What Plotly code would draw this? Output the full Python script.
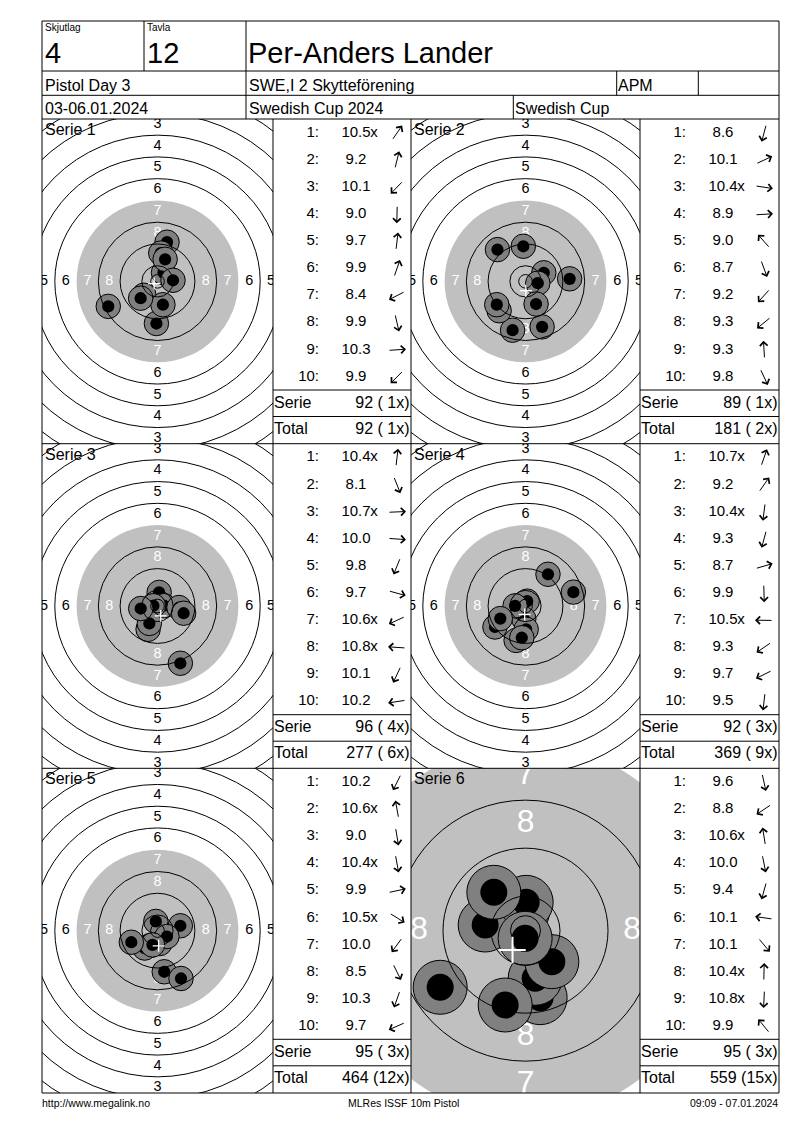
import math
import plotly.graph_objects as go

W, H = 800, 1130
FONT = "Liberation Sans, Arial, sans-serif"

# ---- header / footer texts
squad_no = "4"
target_no = "12"
shooter_name = "Per-Anders Lander"
event_name = "Pistol Day 3"
club_name = "SWE,I 2 Skytteförening"
class_name = "APM"
date_text = "03-06.01.2024"
competition = "Swedish Cup 2024"
cup_name = "Swedish Cup"
footer_left = "http://www.megalink.no"
footer_mid = "MLRes ISSF 10m Pistol"
footer_right = "09:09 - 07.01.2024"

series_names = ["Serie 1", "Serie 2", "Serie 3", "Serie 4", "Serie 5", "Serie 6"]

# ---- shots: decimal score and hit position in mm from centre (y up)
s1_score = [10.5, 9.2, 10.1, 9.0, 9.7, 9.9, 8.4, 9.9, 10.3, 9.9]
s1_x = [2.2, 3.5, -5.0, -0.4, 1.2, 2.8, -18.1, 2.0, 5.7, -6.2]
s1_y = [3.2, 14.4, -5.1, -15.5, 10.4, 8.1, -9.2, -8.6, 0.4, -6.2]

s2_score = [8.6, 10.1, 10.4, 8.9, 9.0, 8.7, 9.2, 9.3, 9.3, 9.8]
s2_x = [-4.75, 6.73, 4.51, 16.23, -10.31, 6.11, -9.69, -10.56, -0.80, 3.89]
s2_y = [-17.96, 3.15, -0.68, 0.93, 11.67, -16.73, -10.80, -8.58, 12.90, -8.33]

s3_score = [10.4, 8.1, 10.7, 10.0, 9.8, 9.7, 10.6, 10.8, 10.1, 10.2]
s3_x = [0.6, 8.4, 2.35, 7.9, -3.46, 9.6, -2.84, -1.5, -3.0, -6.17]
s3_y = [5.0, -21.05, 0.1, -0.56, -8.58, -2.65, -1.30, 0.1, -6.4, -0.93]

s4_score = [10.7, 9.2, 10.4, 9.3, 8.7, 9.9, 10.5, 9.3, 9.7, 9.5]
s4_x = [0.62, 8.27, -0.62, -3.46, 17.6, 0.25, -3.83, -11.23, -9.26, -1.36]
s4_y = [1.79, 11.67, -4.75, -12.65, 5.1, -8.58, 0.06, -7.72, -4.63, -11.67]

s5_score = [10.2, 10.6, 9.0, 10.4, 9.9, 10.5, 10.0, 8.5, 10.3, 9.7]
s5_x = [-2.72, -0.62, 2.47, 0.86, 8.40, 3.46, -4.7, 8.64, -1.85, -9.63]
s5_y = [-5.49, 3.40, -15.12, -4.75, 1.79, -2.16, -6.4, -17.59, -5.25, -4.26]

s6_score = [9.6, 8.8, 10.6, 10.0, 9.4, 10.1, 10.1, 10.4, 10.8, 9.9]
s6_x = [2.44, -14.22, -0.5, 1.61, -3.39, -6.72, 4.39, 0.11, -0.06, -5.28]
s6_y = [-11.17, -9.44, 3.17, -7.94, -12.39, 0.94, -5.17, 4.72, -1.28, 6.39]

scores = [s1_score, s2_score, s3_score, s4_score, s5_score, s6_score]
xs = [s1_x, s2_x, s3_x, s4_x, s5_x, s6_x]
ys = [s1_y, s2_y, s3_y, s4_y, s5_y, s6_y]

# px per mm for each target view (last one is zoomed), radius of grey aiming area
zoom = [2.72, 2.72, 2.72, 2.72, 2.72, 6.0]
grey_r = [29.75, 29.75, 29.75, 29.75, 29.75, 31.2]

# ---- page geometry (px)
ROW_TOP = [119.0, 443.7, 768.3]
ROW_BOT = [443.7, 768.3, 1093.0]
TGT_X = [(42.0, 273.0), (411.0, 640.0)]
TAB_X = [(273.0, 411.0), (640.0, 779.0)]


def ref(a, n):
    return a if n == 1 else f"{a}{n}"


def pxx(v):
    return v / W


def pxy(v):
    return 1 - v / H


fig = go.Figure()
shapes, annos, axes = [], [], {}
run_total, run_x = 0, 0

for i in range(6):
    row, col = divmod(i, 2)
    top, bot = ROW_TOP[row], ROW_BOT[row]
    tx0, tx1 = TGT_X[col]
    s = zoom[i]
    n = i + 1
    xr, yr = ref("x", n), ref("y", n)
    hw = (tx1 - tx0) / 2 / s
    hh = (bot - top) / 2 / s
    axes[ref("xaxis", n)] = dict(domain=[pxx(tx0), pxx(tx1)], range=[-hw, hw], anchor=yr,
                                 visible=False, fixedrange=True)
    axes[ref("yaxis", n)] = dict(domain=[pxy(bot), pxy(top)], range=[-hh, hh], anchor=xr,
                                 visible=False, fixedrange=True)

    # black aiming area shown in grey
    g = grey_r[i]
    shapes.append(dict(type="circle", xref=xr, yref=yr, x0=-g, x1=g, y0=-g, y1=g,
                       fillcolor="#C0C0C0", line=dict(width=0), layer="below"))

    # ring numbers (only those that reach into the view)
    fsize = 5.3 * s
    lx, ly, lt, lc = [], [], [], []
    for ring in range(1, 9):
        r = 1.75 + (10 - ring) * 8
        for dx, dy in [(0, 1), (0, -1), (-1, 0), (1, 0)]:
            px_off = r * s
            lim = (hw if dx else hh) * s + 0.45 * fsize
            if px_off > lim:
                continue
            lx.append(dx * r)
            ly.append(dy * r)
            lt.append(str(ring))
            lc.append("white" if ring >= 7 else "black")
    fig.add_trace(go.Scatter(x=lx, y=ly, mode="text", text=lt, textposition="middle center",
                             textfont=dict(color=lc, size=fsize, family=FONT),
                             cliponaxis=True, hoverinfo="skip", showlegend=False,
                             xaxis=xr, yaxis=yr))

    # shots in firing order
    for sx, sy in zip(xs[i], ys[i]):
        shapes.append(dict(type="circle", xref=xr, yref=yr, x0=sx - 4.5, x1=sx + 4.5,
                           y0=sy - 4.5, y1=sy + 4.5, fillcolor="#808080",
                           line=dict(color="black", width=1), layer="above"))
        shapes.append(dict(type="circle", xref=xr, yref=yr, x0=sx - 2.25, x1=sx + 2.25,
                           y0=sy - 2.25, y1=sy + 2.25, fillcolor="black",
                           line=dict(width=0), layer="above"))

    # ring lines (drawn over the shots)
    radii = [5.75 + (10 - k) * 8 for k in (1, 2, 3, 4, 5, 6, 8, 9, 10)] + [2.5]
    for r in radii:
        shapes.append(dict(type="circle", xref=xr, yref=yr, x0=-r, x1=r, y0=-r, y1=r,
                           line=dict(color="black", width=1), layer="above"))

    # mean point of impact
    mx = sum(xs[i]) / len(xs[i])
    my = sum(ys[i]) / len(ys[i])
    cw = 2 if s > 4 else 1.3
    shapes.append(dict(type="line", xref=xr, yref=yr, x0=mx - 2.2, x1=mx + 2.2, y0=my, y1=my,
                       line=dict(color="white", width=cw), layer="above"))
    shapes.append(dict(type="line", xref=xr, yref=yr, x0=mx, x1=mx, y0=my - 2.2, y1=my + 2.2,
                       line=dict(color="white", width=cw), layer="above"))

    annos.append(dict(text=series_names[i], x=pxx(tx0 + 0.5), y=pxy(top), xref="paper", yref="paper",
                      xanchor="left", yanchor="top", showarrow=False,
                      font=dict(size=16, color="black", family=FONT)))

    # ---- score table
    t = i + 7
    xt, yt = ref("x", t), ref("y", t)
    ta0, ta1 = TAB_X[col]
    tw, th = ta1 - ta0, bot - top
    axes[f"xaxis{t}"] = dict(domain=[pxx(ta0), pxx(ta1)], range=[0, tw], anchor=yt,
                             visible=False, fixedrange=True)
    axes[f"yaxis{t}"] = dict(domain=[pxy(bot), pxy(top)], range=[th, 0], anchor=xt,
                             visible=False, fixedrange=True)
    row_y = [14 + 27.1 * k for k in range(10)]
    sc = scores[i]
    inner = [v >= 10.4 - 1e-9 for v in sc]
    fig.add_trace(go.Scatter(x=[46] * 10, y=row_y, mode="text", text=[f"{k + 1}:" for k in range(10)],
                             textposition="middle left", textfont=dict(size=15, family=FONT, color="black"),
                             hoverinfo="skip", showlegend=False, xaxis=xt, yaxis=yt))
    fig.add_trace(go.Scatter(x=[83] * 10, y=row_y, mode="text", text=[f"{v:.1f}" for v in sc],
                             textposition="middle center", textfont=dict(size=15, family=FONT, color="black"),
                             hoverinfo="skip", showlegend=False, xaxis=xt, yaxis=yt))
    fig.add_trace(go.Scatter(x=[97.3] * sum(inner), y=[yy for yy, f in zip(row_y, inner) if f],
                             mode="text", text=["x"] * sum(inner), textposition="middle right",
                             textfont=dict(size=15, family=FONT, color="black"),
                             hoverinfo="skip", showlegend=False, xaxis=xt, yaxis=yt))

    ser = sum(int(math.floor(v + 1e-9)) for v in sc)
    ser_x = sum(inner)
    run_total += ser
    run_x += ser_x
    fig.add_trace(go.Scatter(x=[1, 1], y=[284.5, 310.5], mode="text", text=["Serie", "Total"],
                             textposition="middle right", textfont=dict(size=16, family=FONT, color="black"),
                             hoverinfo="skip", showlegend=False, xaxis=xt, yaxis=yt))
    fig.add_trace(go.Scatter(x=[tw - 1.5, tw - 1.5], y=[284.5, 310.5], mode="text",
                             text=[f"{ser} ({ser_x:>2}x)", f"{run_total} ({run_x:>2}x)"],
                             textposition="middle left", textfont=dict(size=16, family=FONT, color="black"),
                             hoverinfo="skip", showlegend=False, xaxis=xt, yaxis=yt))
    for yl in (271, 297.5):
        shapes.append(dict(type="line", xref=f"{xt} domain", yref=yt, x0=0, x1=1, y0=yl, y1=yl,
                           line=dict(color="black", width=1)))

    # direction arrows
    for k, (sx, sy) in enumerate(zip(xs[i], ys[i])):
        a = math.atan2(sy, sx)
        L = 9
        annos.append(dict(x=124 + L * math.cos(a), y=row_y[k] - L * math.sin(a), xref=xt, yref=yt,
                          ax=-2 * L * math.cos(a), ay=2 * L * math.sin(a), text="", showarrow=True,
                          arrowhead=4, arrowsize=1.5, arrowwidth=1, arrowcolor="black",
                          standoff=0, startstandoff=0))


# ---- frame lines (paper px)
def pline(x0, y0, x1, y1):
    shapes.append(dict(type="line", xref="paper", yref="paper", x0=pxx(x0), x1=pxx(x1),
                       y0=pxy(y0), y1=pxy(y1), line=dict(color="black", width=1)))


pline(42, 21, 779, 21)
pline(42, 1093, 779, 1093)
pline(42, 21, 42, 1093)
pline(779, 21, 779, 1093)
for yy in (71, 95.3, 119, 443.7, 768.3):
    pline(42, yy, 779, yy)
pline(144, 21, 144, 71)
pline(246, 21, 246, 119)
pline(616.7, 71, 616.7, 95.3)
pline(698.3, 71, 698.3, 95.3)
pline(513.3, 95.3, 513.3, 119)
for xx in (273, 411, 640):
    pline(xx, 119, xx, 1093)


def label(text, x, y, size, anchor="left"):
    annos.append(dict(text=text, x=pxx(x), y=pxy(y), xref="paper", yref="paper",
                      xanchor=anchor, yanchor="middle", showarrow=False,
                      font=dict(size=size, color="black", family=FONT)))


label("Skjutlag", 43, 27.5, 10)
label("Tavla", 145, 27.5, 10)
label(squad_no, 42.5, 53, 29)
label(target_no, 145, 53, 29)
label(shooter_name, 246, 53, 29)
label(event_name, 43, 85.3, 16)
label(club_name, 247, 85.3, 16)
label(class_name, 616, 85.3, 16)
label(date_text, 43, 108.6, 16)
label(competition, 247, 108.6, 16)
label(cup_name, 513, 108.6, 16)
label(footer_left, 40, 1102.5, 10.5)
label(footer_mid, 403, 1102.5, 10.5, "center")
label(footer_right, 780, 1102.5, 10.5, "right")

fig.update_layout(width=W, height=H, margin=dict(l=0, r=0, t=0, b=0),
                  paper_bgcolor="white", plot_bgcolor="rgba(0,0,0,0)",
                  showlegend=False, shapes=shapes, annotations=annos, **axes)
fig.write_html("out.html", config={"displayModeBar": False},
               post_script="document.body.style.margin='0px';")
